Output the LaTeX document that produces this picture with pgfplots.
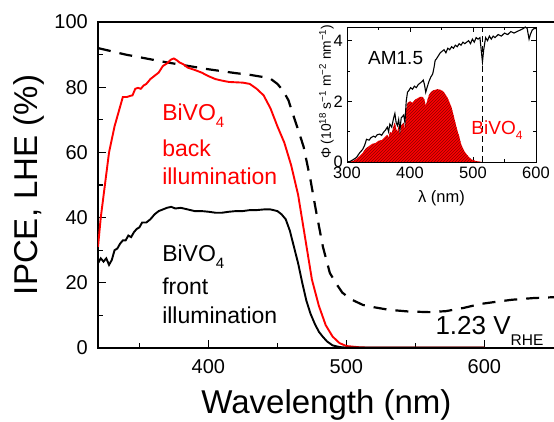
\documentclass[border=0pt]{standalone}
\usepackage{fontspec}
\setmainfont{Liberation Sans}
\usepackage{pgfplots}
\pgfplotsset{compat=1.18}
\usetikzlibrary{patterns}

\begin{document}
\begin{tikzpicture}
\path[use as bounding box] (-98pt,-74pt) rectangle (456pt,348pt);
\begin{axis}[
  at={(0pt,0pt)}, anchor=south west,
  scale only axis, width=456.8pt, height=326pt,
  xmin=320, xmax=651, ymin=0, ymax=100,
  axis line style={line width=1.3pt},
  tick align=inside,
  xtick={400,500,600}, minor xtick={350,450,550},
  ytick={0,20,40,60,80,100}, minor ytick={10,30,50,70,90},
  xtick pos=left, ytick pos=left,
  major tick length=8pt, minor tick length=5pt,
  every tick/.append style={line width=1.1pt, black},
  /pgf/number format/assume math mode=true,
  tick label style={font=\fontsize{20}{24}\selectfont},
  xticklabel style={inner sep=0pt, yshift=-11pt},
  yticklabel style={inner sep=0pt, xshift=-10pt},
  xlabel={Wavelength (nm)}, ylabel={IPCE, LHE (\%)},
  label style={font=\fontsize{33}{40}\selectfont},
  xlabel style={at={(axis description cs:0.5,-0.1994)}, anchor=base},
  ylabel style={at={(axis description cs:-0.1335,0.5)}, anchor=base},
]
% LHE (dashed)
\addplot[black, line width=2.2pt, dash pattern=on 13pt off 9pt] coordinates {
(320,92) (330,91) (340,90) (350,89.2) (360,88.4) (370,87.6) (380,86.9) (390,86.2)
(400,85.5) (410,84.9) (420,84.3) (430,83.8) (440,83.1) (445,82.6) (450,81) (454,79)
(458,76) (461,72) (465,67) (469,61.7) (474,51.5) (478,42) (483,31) (488,23)
(493,19.5) (497,17) (503,15) (512,13.2) (520,12.5) (531,11.7) (545,11.2) (560,11)
(572,11.3) (585,12.3) (597,13.5) (609,14.2) (620,14.8) (635,15.3) (651,15.6)
};
% back illumination (red)
\addplot[red, line width=1.9pt] coordinates {
(320,31) (322,40) (325,50) (328,60) (330,64) (332,68) (334,71) (336,74) (338,77)
(341,77) (343,77.3) (345,77.5) (347,79.5) (349,79.8) (351,79.5) (353,80.5) (355,81)
(358,82.5) (361,83.5) (364,84.5) (367,86.5) (370,87.3) (373,88.5) (375,88.8)
(377,88.3) (379,87.6) (382,87) (385,86) (390,85.3) (395,84.5) (400,83.4) (405,82.5)
(410,82) (415,81.6) (420,81.5) (425,81.4) (430,81) (435,79.5) (440,77.5) (445,73.5)
(450,68) (455,63) (460,56) (465,47) (470,34) (475,21) (480,13) (485,7) (490,3.5)
(495,1.5) (500,0.6) (510,0.2) (520,0.1) (600,0.1)
};
% front illumination (black)
\addplot[black, line width=1.9pt] coordinates {
(320,26) (322,27.5) (324,26.5) (326,27.5) (328,25.5) (330,27) (332,30) (334,30.5)
(336,32) (338,33) (340,33) (342,34.5) (344,34) (346,35.5) (348,36.5) (350,37)
(352,38.5) (355,38.5) (358,39.5) (361,41) (364,42) (367,42.5) (370,43) (373,43.3)
(376,42.8) (380,43) (385,42.5) (390,42) (395,42) (400,41.8) (405,41.5) (410,41.5)
(415,41.8) (420,42) (425,42) (430,42.3) (435,42.3) (440,42.5) (445,42.5) (450,42)
(453,41) (456,39.5) (459,36) (462,31) (465,26) (468,20) (471,14.5) (474,10.5)
(477,7.5) (480,5) (483,3.4) (486,2) (490,0.8) (495,0.3) (500,0.1) (600,0.1)
};
\node[anchor=base west, text=red, font=\fontsize{23}{27}\selectfont] at (axis cs:364,69.9) {BiVO\raisebox{-7pt}{\fontsize{15}{15}\selectfont 4}};
\node[anchor=base west, text=red, font=\fontsize{23}{27}\selectfont] at (axis cs:364,58.7) {back};
\node[anchor=base west, text=red, font=\fontsize{23}{27}\selectfont] at (axis cs:364,50) {illumination};
\node[anchor=base west, text=black, font=\fontsize{23}{27}\selectfont] at (axis cs:364,26.5) {BiVO\raisebox{-7pt}{\fontsize{15}{15}\selectfont 4}};
\node[anchor=base west, text=black, font=\fontsize{23}{27}\selectfont] at (axis cs:364,16.3) {front};
\node[anchor=base west, text=black, font=\fontsize{23}{27}\selectfont] at (axis cs:364,7.6) {illumination};
\node[anchor=base west, text=black, font=\fontsize{26}{30}\selectfont] at (axis cs:562,4.0) {1.23 V\raisebox{-11pt}{\fontsize{15.5}{16}\selectfont RHE}};
\end{axis}

\begin{axis}[
  at={(249pt,186pt)}, anchor=south west,
  scale only axis, width=189pt, height=135pt,
  xmin=300, xmax=600, ymin=0, ymax=4.45,
  axis background/.style={fill=white},
  axis line style={line width=0.9pt},
  tick align=inside,
  xtick={300,400,500,600}, minor xtick={350,450,550},
  ytick={0,2,4}, minor ytick={1,3},
  major tick length=5pt, minor tick length=3pt,
  every tick/.append style={line width=0.8pt, black},
  /pgf/number format/assume math mode=true,
  tick label style={font=\fontsize{16.5}{20}\selectfont},
  xticklabel style={inner sep=0pt, yshift=-5pt},
  yticklabel style={inner sep=0pt, xshift=-4pt},
  xlabel={λ (nm)},
  ylabel={Φ (10\textsuperscript{18} s\textsuperscript{−1} m\textsuperscript{−2} nm\textsuperscript{−1})},
  xlabel style={font=\fontsize{16.5}{20}\selectfont, at={(axis description cs:0.5,-0.3037)}, anchor=base},
  ylabel style={font=\fontsize{13.8}{16}\selectfont, at={(axis description cs:-0.0847,0.52)}, anchor=base},
]
\addplot[draw=none, fill=red, postaction={pattern=north east lines, pattern color=red!55!black}] coordinates {
(300,0) (305,0.01) (310,0.04) (315,0.1) (320,0.2) (325,0.3) (330,0.45) (335,0.52)
(340,0.6) (345,0.62) (350,0.7) (355,0.72) (360,0.82) (364,0.9) (366,0.8) (368,1.0)
(371,0.95) (374,1.2) (376,1.3) (378,1.1) (380,1.0) (382,1.2) (384,0.9) (386,1.2)
(388,1.25) (390,1.3) (392,1.1) (394,1.75) (396,1.95) (400,2.0) (404,1.95) (408,2.05)
(412,2.1) (416,2.15) (420,2.15) (423,2.05) (425,1.85) (427,2.0) (430,2.2) (433,2.3)
(436,2.35) (440,2.38) (444,2.4) (448,2.38) (451,2.35) (454,2.3) (457,2.2) (460,2.1)
(463,1.95) (466,1.8) (469,1.55) (472,1.3) (475,1.05) (478,0.85) (481,0.6) (484,0.45)
(487,0.33) (490,0.25) (494,0.15) (498,0.08) (503,0.04) (508,0.02) (515,0)
} \closedcycle;
\addplot[black, line width=1.1pt] coordinates {
(300,0) (305,0.02) (310,0.08) (315,0.15) (320,0.3) (325,0.42) (328,0.55) (331,0.75)
(335,0.72) (338,0.8) (342,0.85) (345,0.82) (348,0.9) (352,0.92) (355,0.88) (358,0.98)
(361,1.05) (364,1.15) (366,1.0) (368,1.25) (371,1.15) (374,1.45) (376,1.6) (378,1.3)
(380,1.2) (382,1.4) (384,1.05) (386,1.45) (388,1.5) (390,1.55) (392,1.3) (394,2.0)
(396,2.3) (398,2.35) (401,2.45) (404,2.4) (407,2.5) (410,2.45) (413,2.55) (416,2.6)
(419,2.65) (421,2.7) (423,2.55) (425,2.3) (427,2.45) (430,2.65) (433,2.8) (436,2.9)
(438,3.1) (440,3.35) (442,3.4) (445,3.5) (448,3.6) (451,3.65) (454,3.7) (457,3.6)
(460,3.75) (463,3.7) (466,3.8) (469,3.75) (472,3.85) (475,3.8) (478,3.9) (481,3.85)
(484,3.95) (487,3.9) (490,3.95) (493,4.0) (496,3.9) (499,4.05) (502,3.95) (505,4.1)
(508,4.05) (511,4.1) (513,3.7) (515,3.3) (517,3.7) (520,4.1) (523,4.0) (526,4.15)
(529,4.05) (532,4.15) (535,4.1) (540,4.2) (545,4.15) (550,4.25) (555,4.2) (560,4.3)
(565,4.25) (570,4.3) (575,4.35) (580,4.4) (583,4.45) (586,4.4) (589,4.05) (591,4.2)
(594,4.35) (597,4.4) (600,4.4)
};
\addplot[black, line width=1.2pt, dash pattern=on 6pt off 4pt] coordinates {(515,0) (515,4.45)};
\node[anchor=base west, font=\fontsize{19}{22}\selectfont] at (axis cs:328,3.23) {AM1.5};
\node[anchor=base west, text=red, font=\fontsize{19}{22}\selectfont] at (axis cs:492,0.92) {BiVO\raisebox{-5pt}{\fontsize{12}{12}\selectfont 4}};
\end{axis}
\end{tikzpicture}
\end{document}
